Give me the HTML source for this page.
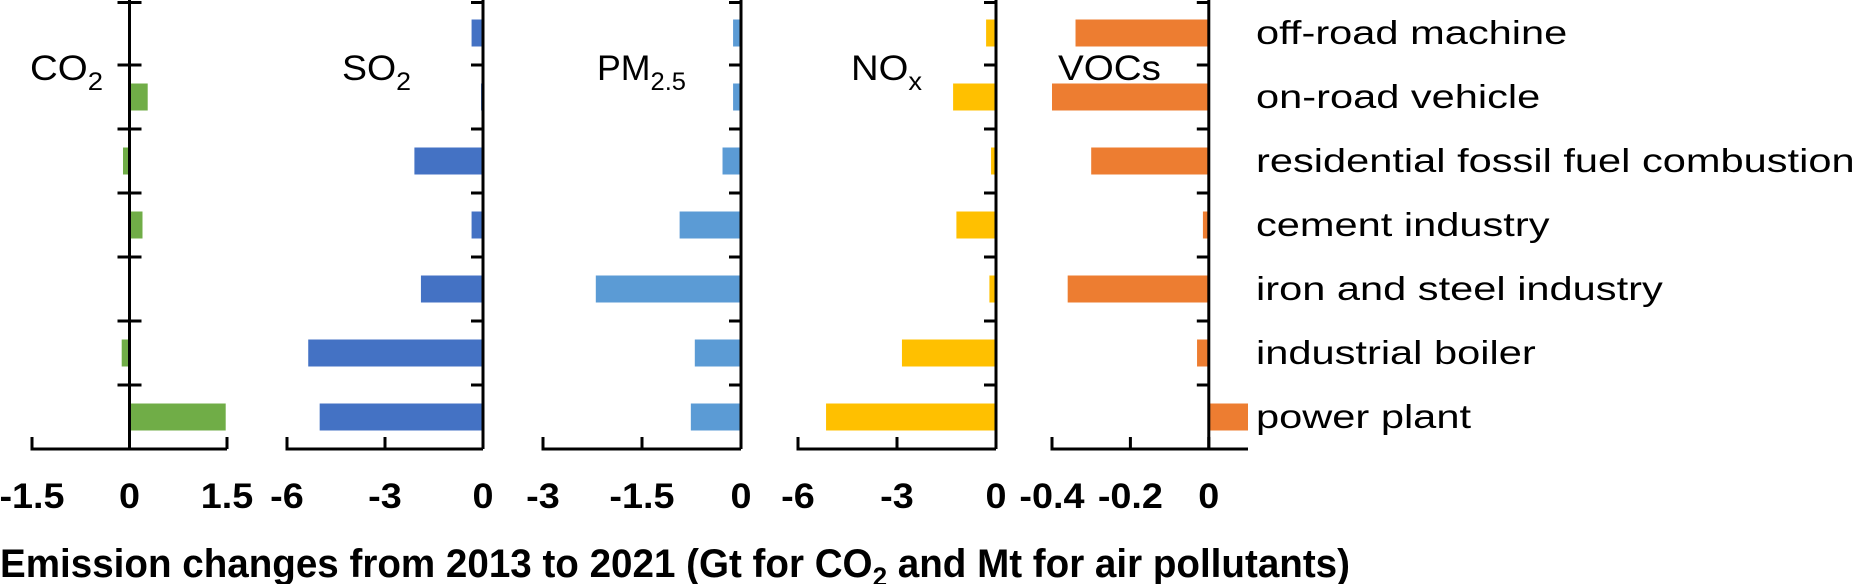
<!DOCTYPE html>
<html><head><meta charset="utf-8"><style>
html,body{margin:0;padding:0;background:#fff;}
svg{display:block;font-family:"Liberation Sans",Arial,sans-serif;}
</style></head><body>
<svg id="chart" width="1868" height="584" viewBox="0 0 1868 584" xmlns="http://www.w3.org/2000/svg"></svg>
<script>
const categories = ["off-road machine","on-road vehicle","residential fossil fuel combustion","cement industry","iron and steel industry","industrial boiler","power plant"];
const co2Values = [0.01, 0.28, -0.1, 0.2, 0.0, -0.12, 1.48];
const so2Values = [-0.35, -0.06, -2.1, -0.35, -1.9, -5.35, -5.0];
const pm25Values = [-0.12, -0.12, -0.28, -0.93, -2.2, -0.7, -0.76];
const noxValues = [-0.3, -1.3, -0.15, -1.2, -0.2, -2.85, -5.15];
const vocValues = [-0.34, -0.4, -0.3, -0.015, -0.36, -0.03, 0.1];
const co2Ticks = [-1.5, 0, 1.5];
const so2Ticks = [-6, -3, 0];
const pm25Ticks = [-3, -1.5, 0];
const noxTicks = [-6, -3, 0];
const vocTicks = [-0.4, -0.2, 0];

const NS = "http://www.w3.org/2000/svg";
const svg = document.getElementById("chart");
function mk(tag, attrs, parent){
  const e = document.createElementNS(NS, tag);
  for (const k in attrs) e.setAttribute(k, attrs[k]);
  (parent||svg).appendChild(e);
  return e;
}
function stretch(t, factor){
  const w = t.getComputedTextLength();
  t.setAttribute("textLength", (w*factor).toFixed(1));
  t.setAttribute("lengthAdjust", "spacingAndGlyphs");
}
const axisY = 449, band = 64, barH = 27;
function bandCenter(i){ return axisY - band*(categories.length - i) + band/2; }

const panels = [
  {key:"co2", vals:co2Values, ticks:co2Ticks, min:-1.5, max:1.5, x0:32, x1:227, color:"#70AD47", both:true, title:"CO", sub:"2", tx:30, tw:73},
  {key:"so2", vals:so2Values, ticks:so2Ticks, min:-6, max:0, x0:287, x1:483, color:"#4472C4", title:"SO", sub:"2", tx:342, tw:69},
  {key:"pm25", vals:pm25Values, ticks:pm25Ticks, min:-3, max:0, x0:543, x1:741, color:"#5B9BD5", title:"PM", sub:"2.5", tx:597, tw:89},
  {key:"nox", vals:noxValues, ticks:noxTicks, min:-6, max:0, x0:798, x1:996, color:"#FFC000", title:"NO", sub:"x", tx:851, tw:71},
  {key:"vocs", vals:vocValues, ticks:vocTicks, min:-0.4, max:0.1, x0:1052, x1:1248, color:"#ED7D31", title:"VOCs", sub:"", tx:1058, tw:103}
];

panels.forEach(p => {
  const g = mk("g", {});
  
  
  const sx = v => p.x0 + (v - p.min) / (p.max - p.min) * (p.x1 - p.x0);
  const zx = sx(0);
  p.vals.forEach((v, i) => {
    const cy = bandCenter(i);
    const a = sx(v);
    const r = mk("rect", {x: Math.min(a, zx), y: cy - barH/2, width: Math.max(Math.abs(a - zx), 0.5), height: barH, fill: p.color}, g);
    
    
  });
  const va = mk("line", {x1: zx, y1: 0, x2: zx, y2: axisY, stroke: "#000", "stroke-width": 3}, g);
  
  
  for (let k = 0; k <= categories.length; k++) {
    const y = axisY - band*k + (k === categories.length ? 1.5 : 0);
    mk("line", {x1: zx - 12, y1: y, x2: p.both ? zx + 12 : zx, y2: y, stroke: "#000", "stroke-width": 3}, g);
  }
  const ha = mk("line", {x1: p.x0 - 1.5, y1: axisY, x2: p.x1, y2: axisY, stroke: "#000", "stroke-width": 3}, g);
  
  
  p.ticks.forEach(t => {
    const x = sx(t);
    mk("line", {x1: x, y1: axisY - 12, x2: x, y2: axisY, stroke: "#000", "stroke-width": 3}, g);
    const tl = mk("text", {x: x, y: 508, "text-anchor": "middle", "font-size": 35, "font-weight": "bold", fill: "#000"}, g);
    tl.textContent = String(t);
    
    
    stretch(tl, 1.08);
  });
  if (p.key === "co2") {
    mk("line", {x1: p.x1, y1: axisY - 12, x2: p.x1, y2: axisY, stroke: "#000", "stroke-width": 3}, g);
  }
  const tt = mk("text", {x: p.tx, y: 80, "font-size": 35, fill: "#000", textLength: p.tw, lengthAdjust: "spacingAndGlyphs"}, g);
  
  
  tt.appendChild(document.createTextNode(p.title));
  if (p.sub) {
    const ts = document.createElementNS(NS, "tspan");
    ts.setAttribute("font-size", 25);
    ts.setAttribute("dy", 10);
    ts.textContent = p.sub;
    tt.appendChild(ts);
  }
});

categories.forEach((c, i) => {
  const t = mk("text", {x: 1256, y: bandCenter(i) + 11, "font-size": 33, fill: "#000"});
  t.textContent = c;
  
  
  stretch(t, 1.26);
});

const at = mk("text", {x: 0, y: 577, "font-size": 40, "font-weight": "bold", fill: "#000", textLength: 1350, lengthAdjust: "spacingAndGlyphs"});


at.appendChild(document.createTextNode("Emission changes from 2013 to 2021 (Gt for CO"));
const s2 = document.createElementNS(NS, "tspan");
s2.setAttribute("font-size", 27); s2.setAttribute("dy", 9); s2.textContent = "2";
at.appendChild(s2);
const rest = document.createElementNS(NS, "tspan");
rest.setAttribute("dy", -9); rest.textContent = " and Mt for air pollutants)";
at.appendChild(rest);
</script>
</body></html>
